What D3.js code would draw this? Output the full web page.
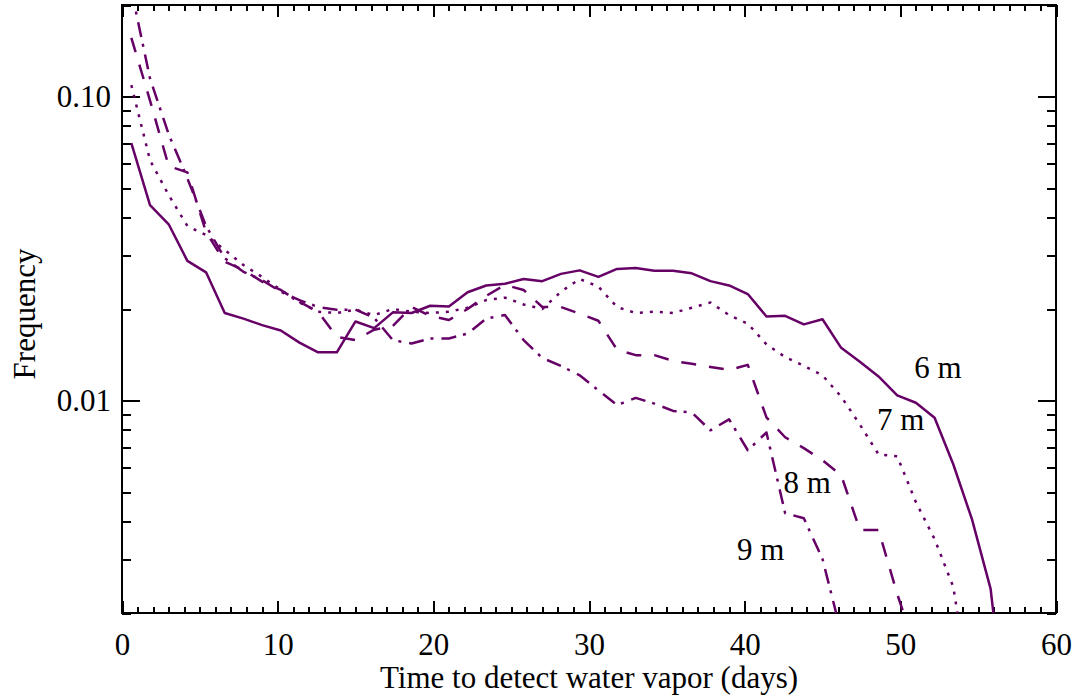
<!DOCTYPE html>
<html>
<head>
    <meta charset="utf-8" />
    <title>Time to detect water vapor</title>
    <script src="https://d3js.org/d3.v7.min.js"></script>
</head>

<style>
    body {
        margin: 0;
        background: #ffffff;
    }

    text {
        font-family: "Liberation Serif", "Times New Roman", serif;
        fill: #000000;
    }

    .axis path {
        display: none;
    }

    .axis line {
        stroke: #000000;
        stroke-width: 2px;
        shape-rendering: crispEdges;
    }

    .series {
        fill: none;
        stroke: #660066;
        stroke-width: 2.5px;
        stroke-linejoin: round;
    }
</style>

<body>
    <svg id="chart" width="1080" height="698"></svg>

    <script>
        // bin centres (days)
        var days = [0.6, 1.8, 3.0, 4.2, 5.4, 6.6, 7.8, 9.0, 10.2, 11.4, 12.6, 13.8,
            15.0, 16.2, 17.4, 18.6, 19.8, 21.0, 22.2, 23.4, 24.6, 25.8, 27.0, 28.2,
            29.4, 30.6, 31.8, 33.0, 34.2, 35.4, 36.6, 37.8, 39.0, 40.2, 41.4, 42.6,
            43.8, 45.0, 46.2, 47.4, 48.6, 49.8, 51.0, 52.2, 53.4, 54.6, 55.8, 57.0];

        // frequency for each depth
        var freq6m = [0.0703, 0.0439, 0.0380, 0.0288, 0.0264, 0.0194, 0.0186, 0.0177, 0.0170, 0.0155,
            0.0144, 0.0144, 0.0182, 0.0173, 0.0195, 0.0194, 0.0205, 0.0204, 0.0227, 0.0239,
            0.0242, 0.0251, 0.0247, 0.0261, 0.0268, 0.0255, 0.0271, 0.0273, 0.0267, 0.0267,
            0.0262, 0.0247, 0.0239, 0.0224, 0.0189, 0.0190, 0.0178, 0.0185, 0.0149, 0.0134,
            0.0120, 0.0104, 0.00983, 0.00878, 0.00617, 0.00407, 0.00240, 0.0007];

        var freq7m = [0.109, 0.0617, 0.0474, 0.0375, 0.0350, 0.0313, 0.0279, 0.0255, 0.0231, 0.0210,
            0.0196, 0.0194, 0.0199, 0.0191, 0.0200, 0.0196, 0.0194, 0.0196, 0.0202, 0.0214,
            0.0218, 0.0207, 0.0200, 0.0228, 0.0251, 0.0237, 0.0203, 0.0194, 0.0196, 0.0194,
            0.0202, 0.0210, 0.0191, 0.0179, 0.0153, 0.0139, 0.0130, 0.0121, 0.0103, 0.00834,
            0.00665, 0.00655, 0.00463, 0.00350, 0.00244, 0.0010];

        var freq8m = [0.156, 0.097, 0.0590, 0.0563, 0.0358, 0.0286, 0.0269, 0.0246, 0.0231, 0.0211,
            0.0196, 0.0162, 0.0158, 0.0171, 0.0176, 0.0203, 0.0190, 0.0184, 0.0200, 0.0221,
            0.0240, 0.0231, 0.0203, 0.0203, 0.0193, 0.0183, 0.0147, 0.0141, 0.0141, 0.0135,
            0.0132, 0.0129, 0.0126, 0.0131, 0.00880, 0.00757, 0.00697, 0.00636, 0.00568, 0.00375,
            0.00375, 0.00231, 0.00151];

        var freq9m = [0.224, 0.1146, 0.0751, 0.0538, 0.0375, 0.0294, 0.0265, 0.0249, 0.0228, 0.0214,
            0.0203, 0.0199, 0.0199, 0.0187, 0.0158, 0.0154, 0.0160, 0.0160, 0.0166, 0.0186,
            0.0191, 0.0158, 0.0138, 0.0130, 0.0121, 0.0108, 0.00966, 0.0102, 0.00977, 0.00924,
            0.00914, 0.00798, 0.00867, 0.00686, 0.00785, 0.00426, 0.00410, 0.00301, 0.00172];

        var seriesNames = ["6 m", "7 m", "8 m", "9 m"];

        // where the depth labels sit, in data units (day, frequency at baseline)
        var labelDays = [50.9, 48.5, 42.5, 39.5];
        var labelFreqs = [0.0119, 0.0080, 0.00496, 0.00299];

        // ticks
        var xMajor = [0, 10, 20, 30, 40, 50, 60];
        var xMinor = d3.range(0, 61, 1);
        var yMajor = [0.01, 0.1];
        var yMinor = [0.002, 0.003, 0.004, 0.005, 0.006, 0.007, 0.008, 0.009,
            0.02, 0.03, 0.04, 0.05, 0.06, 0.07, 0.08, 0.09, 0.2];

        var margin = {
            top: 5,
            right: 24,
            bottom: 85,
            left: 122
        };

        var width = 1080 - margin.left - margin.right,
            height = 698 - margin.top - margin.bottom;

        var svg = d3.select("#chart")
            .append("g")
            .attr("transform", "translate(" + margin.left + "," + margin.top + ")");

        var x = d3.scaleLinear().domain([0, 60]).range([0, width]);
        var y = d3.scaleLog().domain([0.002, 0.2]).range([height, 0]);

        svg.append("clipPath")
            .attr("id", "plot-clip")
            .append("rect")
            .attr("width", width)
            .attr("height", height);

        // axes, ticks pointing inwards like the original
        svg.append("g").attr("class", "axis")
            .attr("transform", "translate(0," + height + ")")
            .call(d3.axisBottom(x).tickValues(xMinor).tickSize(-6).tickFormat(""));
        svg.append("g").attr("class", "axis")
            .attr("transform", "translate(0," + height + ")")
            .call(d3.axisBottom(x).tickValues(xMajor).tickSize(-12).tickPadding(20)
                .tickFormat(d3.format("d")))
            .selectAll("text")
            .attr("font-size", "31px");

        svg.append("g").attr("class", "axis")
            .call(d3.axisTop(x).tickValues(xMinor).tickSize(-6).tickFormat(""));
        svg.append("g").attr("class", "axis")
            .call(d3.axisTop(x).tickValues(xMajor).tickSize(-12).tickFormat(""));

        svg.append("g").attr("class", "axis")
            .call(d3.axisLeft(y).tickValues(yMinor).tickSize(-9).tickFormat(""));
        svg.append("g").attr("class", "axis")
            .call(d3.axisLeft(y).tickValues(yMajor).tickSize(-18).tickPadding(11)
                .tickFormat(d3.format(".2f")))
            .selectAll("text")
            .attr("font-size", "31px");

        svg.append("g").attr("class", "axis")
            .attr("transform", "translate(" + width + ",0)")
            .call(d3.axisRight(y).tickValues(yMinor).tickSize(-9).tickFormat(""));
        svg.append("g").attr("class", "axis")
            .attr("transform", "translate(" + width + ",0)")
            .call(d3.axisRight(y).tickValues(yMajor).tickSize(-18).tickFormat(""));

        // frame
        svg.append("rect")
            .attr("width", width)
            .attr("height", height)
            .attr("fill", "none")
            .attr("stroke", "#000")
            .attr("stroke-width", 2);

        // lines
        var line = d3.line()
            .x(function(d) {
                return x(d.day);
            })
            .y(function(d) {
                return y(d.value);
            });

        var series = [freq6m, freq7m, freq8m, freq9m].map(function(vals, k) {
            return {
                name: seriesNames[k],
                points: vals.map(function(v, i) {
                    return { day: days[i], value: v };
                })
            };
        });

        var dashes = [null, "3,7", "15,13", "15,7,3,8"];

        svg.append("g")
            .attr("clip-path", "url(#plot-clip)")
            .selectAll(".series")
            .data(series)
            .enter().append("path")
            .attr("class", "series")
            .attr("stroke-dasharray", function(d, i) {
                return dashes[i];
            })
            .attr("d", function(d) {
                return line(d.points);
            });

        // depth labels
        svg.selectAll(".label")
            .data(series)
            .enter().append("text")
            .attr("class", "label")
            .attr("x", function(d, i) {
                return x(labelDays[i]);
            })
            .attr("y", function(d, i) {
                return y(labelFreqs[i]);
            })
            .attr("font-size", "31px")
            .text(function(d) {
                return d.name;
            });

        // axis titles
        svg.append("text")
            .attr("x", width / 2)
            .attr("y", height + 75)
            .attr("text-anchor", "middle")
            .attr("font-size", "31px")
            .text("Time to detect water vapor (days)");

        svg.append("text")
            .attr("transform", "translate(" + (35 - margin.left) + "," + (height / 2 + 5) + ") rotate(-90)")
            .attr("text-anchor", "middle")
            .attr("font-size", "31px")
            .text("Frequency");
    </script>
</body>
</html>
